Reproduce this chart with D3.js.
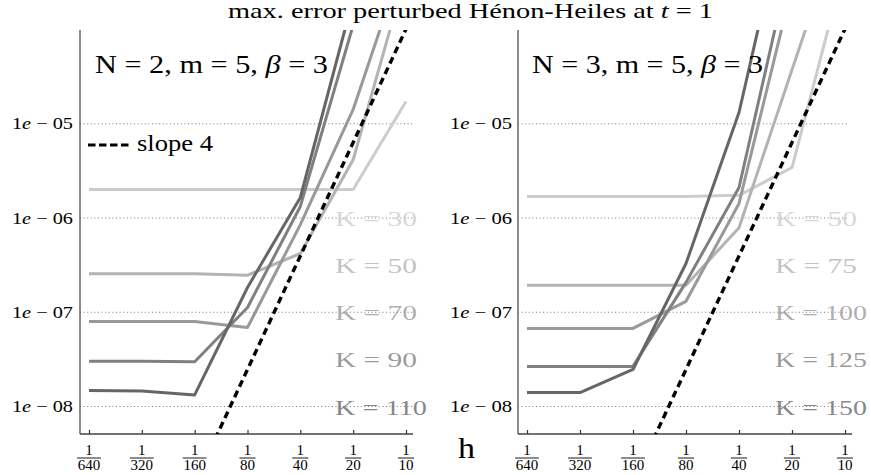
<!DOCTYPE html>
<html><head><meta charset="utf-8">
<script src="https://cdn.jsdelivr.net/npm/d3@7"></script>
<style>body{margin:0;background:#fff} svg{display:block} text{font-family:"Liberation Serif","DejaVu Serif",serif;fill:#000}</style>
</head><body><svg id="c" width="871" height="475"></svg>
<script>
// ---------- data ----------
const hValues = [1/640, 1/320, 1/160, 1/80, 1/40, 1/20, 1/10];
const hTickDen = ["640", "320", "160", "80", "40", "20", "10"];
const yTicks = [1e-8, 1e-7, 1e-6, 1e-5];
const yTickExp = ["08", "07", "06", "05"];
const slope4 = [5.96e-12, 9.54e-11, 1.53e-9, 2.44e-8, 3.91e-7, 6.25e-6, 1.0e-4];

const leftK = ["K = 30", "K = 50", "K = 70", "K = 90", "K = 110"];
const k30L  = [1.98e-6, 1.98e-6, 1.98e-6, 1.98e-6, 1.98e-6, 1.98e-6, 1.7e-5];
const k50L  = [2.53e-7, 2.53e-7, 2.53e-7, 2.44e-7, 4.15e-7, 4.1e-6, 3.9e-4];
const k70L  = [7.9e-8, 7.9e-8, 7.9e-8, 6.8e-8, 8.4e-7, 1.4e-5, 6.5e-4];
const k90L  = [2.99e-8, 2.99e-8, 2.95e-8, 1.11e-7, 1.31e-6, 1.1e-4, 1.0e-2];
const k110L = [1.46e-8, 1.44e-8, 1.31e-8, 1.81e-7, 1.63e-6, 2.1e-4, 1.0e-2];

const rightK = ["K = 50", "K = 75", "K = 100", "K = 125", "K = 150"];
const k50R  = [1.67e-6, 1.67e-6, 1.67e-6, 1.67e-6, 1.72e-6, 3.39e-6, 4.8e-4];
const k75R  = [1.91e-7, 1.91e-7, 1.91e-7, 1.91e-7, 7.8e-7, 3.7e-5, 1.7e-3];
const k100R = [6.65e-8, 6.65e-8, 6.65e-8, 1.29e-7, 1.41e-6, 2.8e-4, 1.0e-2];
const k125R = [2.63e-8, 2.63e-8, 2.63e-8, 2.05e-7, 2.08e-6, 6.2e-4, 1.0e-2];
const k150R = [1.39e-8, 1.39e-8, 2.44e-8, 3.25e-7, 1.30e-5, 3.7e-3, 1.0e-1];

// ---------- layout / style ----------
const grays = ["#cccccc", "#b3b3b3", "#999999", "#808080", "#666666"];
const labelLog = [-6, -6.5, -7, -7.5, -8];
const svg = d3.select("#c");
const y = d3.scaleLog().domain([1e-8, 1e-4]).range([406, 29]);
const yTop = 30, yBot = 434;

const panels = [
  {xr: [89, 406], ax: [80, 413], grid: 413, series: [k30L, k50L, k70L, k90L, k110L], labels: leftK,
   labelX: 335, annotN: "2", annotX: 95, annotW: 233, tickEnd: 73, tickW: 61},
  {xr: [527, 845], ax: [518, 852], grid: 848, series: [k50R, k75R, k100R, k125R, k150R], labels: rightK,
   labelX: 775, annotN: "3", annotX: 532, annotW: 231, tickEnd: 512, tickW: 62}
];

panels.forEach((p, pi) => {
  const x = d3.scaleLog().base(2).domain([hValues[0], hValues[6]]).range(p.xr);
  const g = svg.append("g");
  const clipId = "clip" + pi;
  svg.append("clipPath").attr("id", clipId).append("rect")
    .attr("x", p.ax[0]).attr("y", yTop).attr("width", p.ax[1] - p.ax[0]).attr("height", yBot - yTop);

  // gridlines
  const ga = g.append("g").attr("transform", `translate(${p.ax[0]},0)`)
    .call(d3.axisRight(y).tickValues(yTicks).tickSize(p.grid - p.ax[0]).tickFormat(""));
  ga.select(".domain").remove();
  ga.selectAll(".tick line").attr("stroke", "#777").attr("stroke-width", 1).attr("stroke-dasharray", "1,2.6");

  // y tick labels
  yTicks.forEach((t, i) => {
    const tx = g.append("text").attr("x", p.tickEnd - p.tickW).attr("y", y(t) + 6)
      .attr("font-size", 17).attr("textLength", p.tickW).attr("lengthAdjust", "spacingAndGlyphs");
    tx.append("tspan").text("1");
    tx.append("tspan").attr("font-style", "italic").text("e");
    tx.append("tspan").text(" \u2212 " + yTickExp[i]);
  });

  // K labels
  p.labels.forEach((lab, i) => {
    g.append("text").attr("x", p.labelX).attr("y", y(Math.pow(10, labelLog[i])) + 8.5)
      .attr("font-size", 20).style("fill", grays[i]).attr("fill-opacity", 0.8)
      .attr("textLength", lab.length > 6 ? 92 : 82).attr("lengthAdjust", "spacingAndGlyphs")
      .text(lab);
  });

  // axes lines
  g.append("line").attr("x1", p.ax[0]).attr("x2", p.ax[0]).attr("y1", yTop).attr("y2", yBot)
    .attr("stroke", "#666").attr("stroke-width", 1.5);
  const xa = g.append("g").attr("transform", `translate(0,${yBot})`)
    .call(d3.axisBottom(x).tickValues(hValues).tickSize(-4).tickFormat(""));
  xa.select(".domain").remove();
  xa.selectAll(".tick line").attr("stroke", "#333").attr("stroke-width", 1.2);
  g.append("line").attr("x1", p.ax[0]).attr("x2", p.ax[1]).attr("y1", yBot).attr("y2", yBot)
    .attr("stroke", "#444").attr("stroke-width", 1.5);

  // x tick fraction labels
  hValues.forEach((h, i) => {
    const cx = x(h);
    g.append("text").attr("x", cx).attr("y", 455).attr("text-anchor", "middle").attr("font-size", 15).text("1");
    const w = hTickDen[i].length * 7.6 + 1;
    g.append("line").attr("x1", cx - w / 2).attr("x2", cx + w / 2).attr("y1", 458).attr("y2", 458)
      .attr("stroke", "#000").attr("stroke-width", 0.9);
    g.append("text").attr("x", cx).attr("y", 470).attr("text-anchor", "middle").attr("font-size", 15).text(hTickDen[i]);
  });

  // series lines
  const line = d3.line().x((d, i) => x(hValues[i])).y(d => y(d));
  const lg = g.append("g").attr("clip-path", `url(#${clipId})`);
  p.series.forEach((s, i) => {
    lg.append("path").datum(s).attr("d", line).attr("fill", "none")
      .attr("stroke", grays[i]).attr("stroke-width", 3).attr("stroke-linejoin", "round");
  });
  lg.append("path").datum(slope4).attr("d", line).attr("fill", "none")
    .attr("stroke", "#000").attr("stroke-width", 3.4).attr("stroke-dasharray", "7,4.5");

  // annotation
  const an = g.append("text").attr("x", p.annotX).attr("y", 73).attr("font-size", 25)
    .attr("textLength", p.annotW).attr("lengthAdjust", "spacingAndGlyphs");
  an.append("tspan").text("N = " + p.annotN + ", m = 5, ");
  an.append("tspan").attr("font-style", "italic").text("\u03B2");
  an.append("tspan").text(" = 3");
});

// legend (slope 4)
svg.append("line").attr("x1", 88).attr("x2", 130).attr("y1", 145).attr("y2", 145)
  .attr("stroke", "#000").attr("stroke-width", 3.2).attr("stroke-dasharray", "7.5,3.5");
svg.append("text").attr("x", 137).attr("y", 151).attr("font-size", 24)
  .attr("textLength", 76).attr("lengthAdjust", "spacingAndGlyphs").text("slope 4");

// title
const tt = svg.append("text").attr("x", 228).attr("y", 18).attr("font-size", 21)
  .attr("textLength", 485).attr("lengthAdjust", "spacingAndGlyphs");
tt.append("tspan").text("max. error perturbed H\u00e9non-Heiles at ");
tt.append("tspan").attr("font-style", "italic").text("t");
tt.append("tspan").text(" = 1");

// x label
svg.append("text").attr("x", 458).attr("y", 458).attr("font-size", 30)
  .attr("textLength", 17).attr("lengthAdjust", "spacingAndGlyphs").text("h");
</script></body></html>
